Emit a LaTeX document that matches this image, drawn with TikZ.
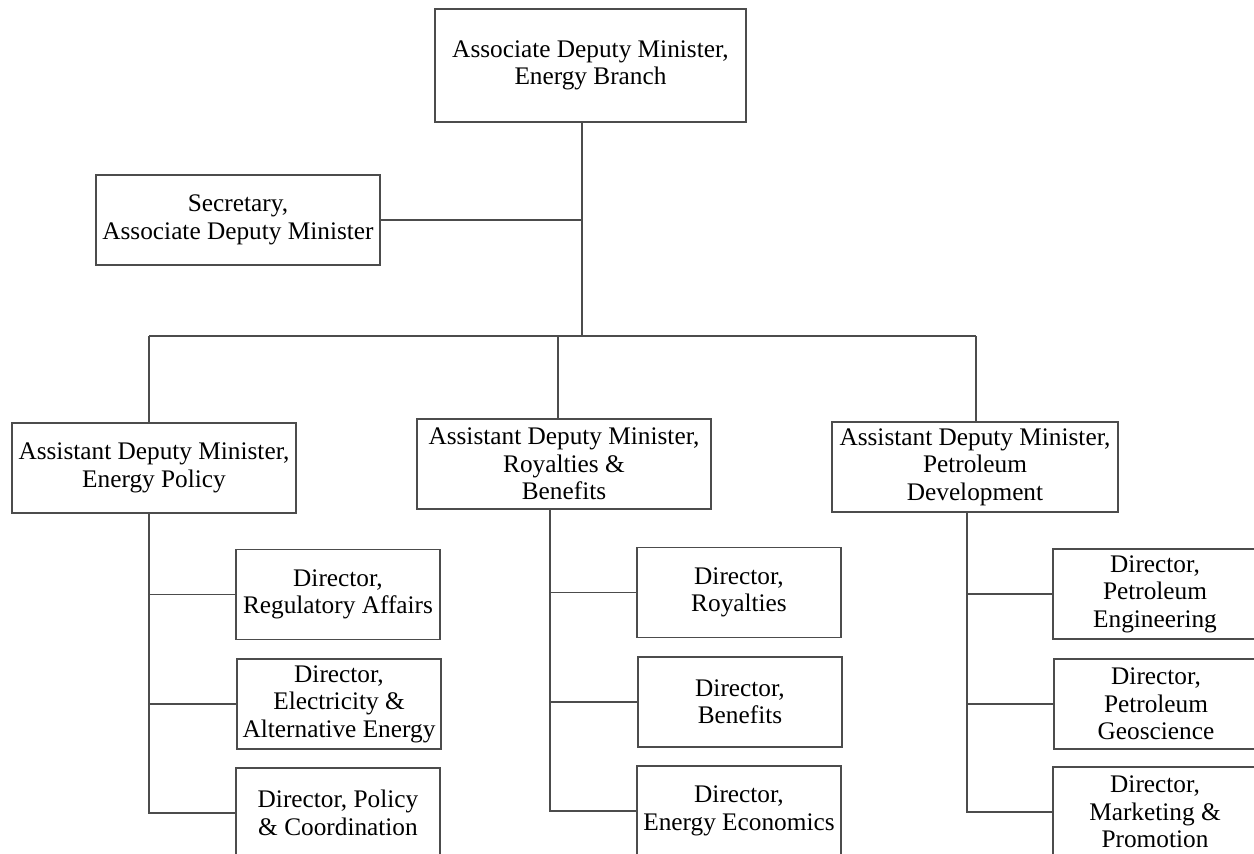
\documentclass[tikz,border=0pt]{standalone}
\usepackage{fontspec}
\setmainfont{Liberation Serif}
\usetikzlibrary{positioning}

\tikzset{
    post/.style={draw=black!70,line width=0.8pt,rectangle,align=center,inner sep=0pt,
                 font=\fontsize{14.4}{15.6}\selectfont},
    director/.style={post,minimum width=4.08cm,minimum height=1.8cm},
    link/.style={draw=black!70,line width=0.8pt}
}

\begin{document}
\begin{tikzpicture}[x=0.02cm,y=-0.02cm]
    \useasboundingbox (0,0) rectangle (1254,853);
    \clip (0,0) rectangle (1254,853);

    % top of the branch
    \node[post,minimum width=6.22cm,minimum height=2.26cm] (adm) at (590.5,65.5) {Associate Deputy Minister,\\Energy Branch};
    \node[post,minimum width=5.68cm,minimum height=1.8cm] (sec) at (238,220) {Secretary,\\Associate Deputy Minister};

    % assistant deputy ministers
    \node[post,minimum width=5.68cm,minimum height=1.8cm] (ep) at (154,468) {Assistant Deputy Minister,\\Energy Policy};
    \node[post,minimum width=5.88cm,minimum height=1.8cm] (rb) at (564,464) {Assistant Deputy Minister,\\Royalties \&\\Benefits};
    \node[post,minimum width=5.72cm,minimum height=1.8cm] (pd) at (975,467) {Assistant Deputy Minister,\\Petroleum\\Development};

    % directors
    \node[director] (ep1) at (338,594.5) {Director,\\Regulatory Affairs};
    \node[director] (ep2) at (339,704) {Director,\\Electricity \&\\Alternative Energy};
    \node[director] (ep3) at (338,813) {Director, Policy\\\& Coordination};
    \node[director] (rb1) at (739,592.5) {Director,\\Royalties};
    \node[director] (rb2) at (740,702) {Director,\\Benefits};
    \node[director] (rb3) at (739,811) {Director,\\Energy Economics};
    \node[director] (pd1) at (1155,594) {Director,\\Petroleum\\Engineering};
    \node[director] (pd2) at (1156,704) {Director,\\Petroleum\\Geoscience};
    \node[director] (pd3) at (1155,812) {Director,\\Marketing \&\\Promotion};

    \coordinate (bus) at (582,336);
    \coordinate (epdrop) at (149,336);
    \coordinate (rbdrop) at (558,336);
    \coordinate (pddrop) at (976,336);
    \coordinate (epspine) at (149,0);
    \coordinate (rbspine) at (550,0);
    \coordinate (pdspine) at (967,0);

    \draw[link] (adm.south -| bus) -- (bus);
    \draw[link] (sec.east) -- (sec.east -| bus);
    \draw[link] (epdrop) -- (pddrop);
    \foreach \n in {ep,rb,pd} {
        \draw[link] (\n drop) -- (\n.north -| \n drop);
        \draw[link] (\n.south -| \n spine) |- (\n 3.west);
        \draw[link] (\n 1.west) -- (\n 1.west -| \n spine);
        \draw[link] (\n 2.west) -- (\n 2.west -| \n spine);
    }
\end{tikzpicture}
\end{document}
